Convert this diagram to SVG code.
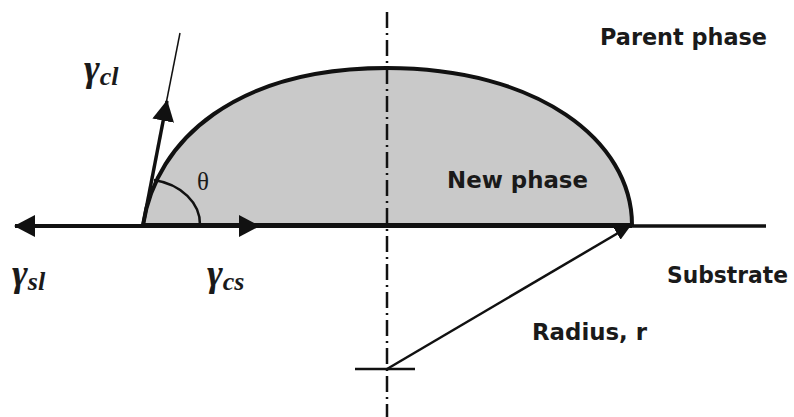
<svg xmlns="http://www.w3.org/2000/svg" width="794" height="417" viewBox="0 0 794 417">
  <defs>
    <marker id="ah" markerUnits="userSpaceOnUse" markerWidth="22" markerHeight="22" refX="20" refY="11" orient="auto">
      <path d="M0,0 L21,11 L0,22 Z" fill="#111"/>
    </marker>
    <marker id="ahs" markerUnits="userSpaceOnUse" markerWidth="16" markerHeight="14" refX="15" refY="7" orient="auto">
      <path d="M0,0 L16,7 L0,14 Z" fill="#111"/>
    </marker>
  </defs>
  <style>
    .lbl { font-family: "DejaVu Sans", "Liberation Sans", sans-serif; font-weight: bold; font-size: 23px; fill: #1a1a1a; }
    .gam { font-family: "Liberation Serif", "Times New Roman", serif; font-style: italic; font-weight: bold; fill: #1a1a1a; }
    .theta { font-family: "Liberation Serif", "Times New Roman", serif; font-size: 25px; fill: #1a1a1a; }
    .ln { stroke: #111; fill: none; }
  </style>
  <rect width="794" height="417" fill="#ffffff"/>

  <g id="new-phase">
    <path d="M143,225 C156,139 237,68 387,68 C537,68 632,140 632,225 Z" fill="#c9c9c9" stroke="#111" stroke-width="4" stroke-linejoin="round"/>
    <path class="ln" d="M200,225 A57,45 0 0 0 154,180" stroke-width="2.5"/>
    <text class="theta" x="203" y="190" text-anchor="middle">θ</text>
    <text class="lbl" x="447" y="188" textLength="141" lengthAdjust="spacingAndGlyphs">New phase</text>
  </g>

  <g id="substrate">
    <line class="ln" x1="632" y1="226" x2="766" y2="226" stroke-width="3.5"/>
    <text class="lbl" x="667" y="283" textLength="121" lengthAdjust="spacingAndGlyphs">Substrate</text>
  </g>

  <g id="parent-phase">
    <text class="lbl" x="600" y="45" textLength="167" lengthAdjust="spacingAndGlyphs">Parent phase</text>
  </g>

  <g id="axis">
    <line class="ln" x1="387" y1="12" x2="387" y2="417" stroke-width="2.5" stroke-dasharray="16 5 2 5"/>
    <line class="ln" x1="355" y1="369" x2="415" y2="369" stroke-width="2.5"/>
  </g>

  <g id="connectors">
    <line class="ln" x1="143" y1="226" x2="15" y2="226" stroke-width="4" marker-end="url(#ah)"/>
    <line class="ln" x1="143" y1="226" x2="259" y2="226" stroke-width="4" marker-end="url(#ah)"/>
    <line class="ln" x1="259" y1="226" x2="632" y2="226" stroke-width="4"/>
    <line class="ln" x1="143" y1="225" x2="167" y2="101" stroke-width="3.5" marker-end="url(#ah)"/>
    <line class="ln" x1="166" y1="104" x2="180" y2="33" stroke-width="1.5"/>
    <line class="ln" x1="387" y1="369" x2="630" y2="226" stroke-width="2.5" marker-end="url(#ahs)"/>
  </g>

  <g id="labels">
    <text class="gam" x="84" y="81"><tspan font-size="38">γ</tspan><tspan font-size="26" dy="4">cl</tspan></text>
    <text class="gam" x="12" y="286"><tspan font-size="38">γ</tspan><tspan font-size="26" dy="4">sl</tspan></text>
    <text class="gam" x="207" y="286"><tspan font-size="38">γ</tspan><tspan font-size="26" dy="4">cs</tspan></text>
    <text class="lbl" x="532" y="340" textLength="115" lengthAdjust="spacingAndGlyphs">Radius, r</text>
  </g>
</svg>
